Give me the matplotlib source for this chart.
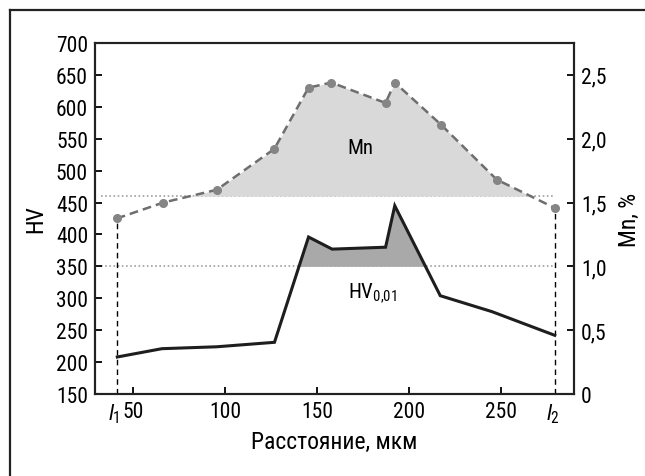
import matplotlib
matplotlib.use("Agg")
import matplotlib.pyplot as plt
from matplotlib.lines import Line2D
from matplotlib import font_manager
import numpy as np

# pick a condensed sans font if one is installed
_names = {f.name for f in font_manager.fontManager.ttflist}
family = 'DejaVu Sans'
for cand in ['Liberation Sans Narrow', 'Roboto Condensed', 'Open Sans Condensed', 'Arial Narrow']:
    if cand in _names:
        family = cand
        break
plt.rcParams['font.family'] = [family, 'DejaVu Sans']
plt.rcParams['mathtext.fontset'] = 'custom'
plt.rcParams['mathtext.it'] = family + ':italic'
plt.rcParams['mathtext.rm'] = family

# Mn content (%), right axis
mn_x = [41.3, 66.6, 95.6, 126.8, 145.4, 157.8, 187.2, 192.2, 217.3, 247.5, 279.4]
mn_pct = [1.375, 1.50, 1.60, 1.92, 2.40, 2.44, 2.28, 2.44, 2.11, 1.68, 1.455]

# Microhardness HV0,01, left axis
hv_x = [41.6, 65.8, 95.6, 126.9, 145.4, 158.2, 187.2, 192.2, 216.9, 245.0, 279.0]
hv = [208, 221, 224, 231, 396, 377, 380, 445, 304, 279, 242]

hv_threshold = 350
mn_threshold = 1.55
l1, l2 = 41.6, 279.0

x_ticks = [50, 100, 150, 200, 250]
hv_ticks = [150, 200, 250, 300, 350, 400, 450, 500, 550, 600, 650, 700]
mn_ticks = [0, 0.5, 1.0, 1.5, 2.0, 2.5]
mn_tick_labels = ['0', '0,5', '1,0', '1,5', '2,0', '2,5']

fig = plt.figure(figsize=(6.45, 4.77), dpi=100)
ax = fig.add_axes([0.1473, 0.1719, 0.890 - 0.1473, 0.9078 - 0.1719])
ax2 = ax.twinx()

ax.set_xlim(29.5, 289.5)
ax.set_ylim(150, 700)
ax2.set_ylim(0, 2.75)

# threshold dotted lines
ax.plot([33, l2], [hv_threshold, hv_threshold], linestyle=(0, (1, 1.5)), color='#a0a0a0', lw=1.2, zorder=1)
ax2.plot([33, l2], [mn_threshold, mn_threshold], linestyle=(0, (1, 1.5)), color='#a0a0a0', lw=1.2, zorder=1)

# HV fill and line
hx = np.array(hv_x); hy = np.array(hv)
ax.fill_between(hx, hv_threshold, hy, where=hy >= hv_threshold, interpolate=True,
                color='#a9a9a9', lw=0, zorder=2)
ax.plot(hx, hy, color='#1e1e1e', lw=2.2, zorder=4, solid_joinstyle='miter')

# vertical dashed lines l1, l2
ax.plot([l1, l1], [150, 425], color='black', lw=1.0, linestyle=(0, (4, 3)), zorder=3)
ax.plot([l2, l2], [150, 441], color='black', lw=1.0, linestyle=(0, (4, 3)), zorder=3)

# Mn fill and line
mx = np.array(mn_x); my = np.array(mn_pct)
ax2.fill_between(mx, mn_threshold, my, where=my >= mn_threshold, interpolate=True,
                 color='#d9d9d9', lw=0, zorder=2)
ax2.plot(mx, my, color='#6e6e6e', lw=1.8, linestyle=(0, (3.5, 2)), zorder=4)
ax2.plot(mx, my, linestyle='none', marker='o', ms=5.5, color='#858585', zorder=5)

# texts (on the top axes so the fill does not hide them)
ax2.text(173.5, 537, 'Mn', transform=ax.transData, ha='center', va='center', fontsize=15, zorder=6)
ax2.text(180, 311, 'HV$_{0{,}01}$', transform=ax.transData, ha='center', va='center', fontsize=15, zorder=6)

# ticks
ax.set_xticks(x_ticks)
ax.set_xticklabels([str(t) for t in x_ticks])
ax.set_yticks(hv_ticks)
ax2.set_yticks(mn_ticks)
ax2.set_yticklabels(mn_tick_labels)
for a in (ax, ax2):
    a.tick_params(direction='in', length=5, width=1.3, labelsize=15.5, pad=5)
    for s in a.spines.values():
        s.set_linewidth(1.5)
        s.set_color('#222222')

ax.text(l1 - 1.7, -0.022, '$\\mathit{l}_1$', transform=ax.get_xaxis_transform(),
        ha='center', va='top', fontsize=16)
ax.text(l2 - 1.0, -0.022, '$\\mathit{l}_2$', transform=ax.get_xaxis_transform(),
        ha='center', va='top', fontsize=16)

ax.set_xlabel('Расстояние, мкм', fontsize=17)
ax.set_ylabel('HV', fontsize=17)
ax2.set_ylabel('Mn, %', fontsize=17)
ax.xaxis.label.set_va('center')
ax.yaxis.label.set_va('center')
ax2.yaxis.label.set_va('center')
ax.xaxis.set_label_coords(0.5, -0.135)
ax.yaxis.set_label_coords(-0.123, 0.5)
ax2.yaxis.set_label_coords(1.115, 0.5)

# outer frame (top and left)
fig.add_artist(Line2D([0.0155, 1.0], [0.977, 0.977], transform=fig.transFigure, color='#222222', lw=1.6))
fig.add_artist(Line2D([0.0155, 0.0155], [0.977, 0.0], transform=fig.transFigure, color='#222222', lw=1.6))

fig.savefig('out.png', dpi=100)
